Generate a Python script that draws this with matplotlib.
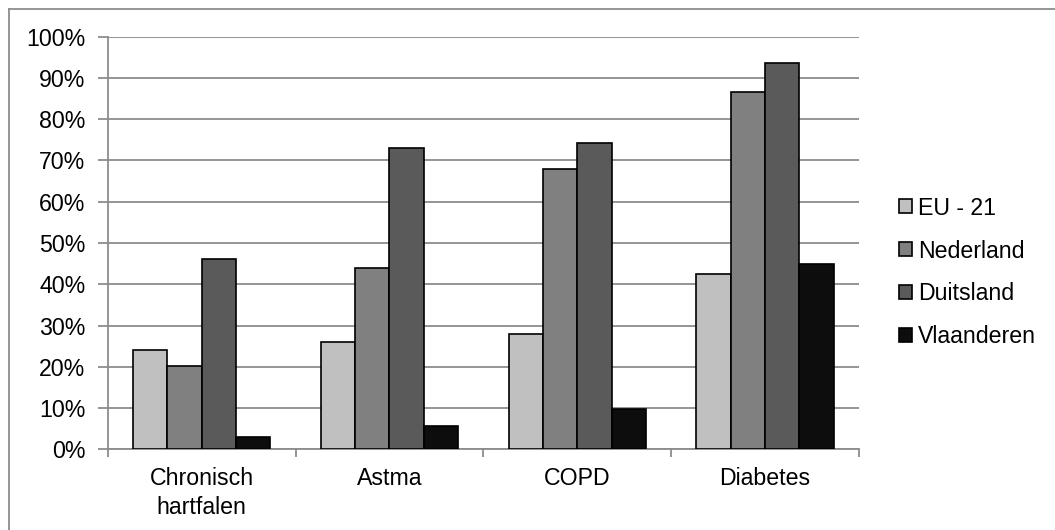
import matplotlib
matplotlib.use("Agg")
import matplotlib.pyplot as plt
from matplotlib.lines import Line2D
from matplotlib.ticker import FixedLocator, PercentFormatter
import numpy as np

categories = ["Chronisch\nhartfalen", "Astma", "COPD", "Diabetes"]
series_names = ["EU - 21", "Nederland", "Duitsland", "Vlaanderen"]
eu21 = [24.1, 25.9, 27.9, 42.5]
nederland = [20.3, 43.9, 67.9, 86.6]
duitsland = [46.1, 73.0, 74.2, 93.6]
vlaanderen = [3.1, 5.6, 9.8, 44.8]
colors = ["#c0c0c0", "#808080", "#5a5a5a", "#0d0d0d"]
yticks = list(range(0, 101, 10))

plt.rcParams['font.family'] = ['Liberation Sans', 'DejaVu Sans']
fs = 16.7

fig = plt.figure(figsize=(10.55, 5.30), dpi=100)
ax = fig.add_axes([107.7/1055, 1-449.3/530, (859-107.7)/1055, (449.3-36.7)/530])

x = np.arange(len(categories))
w = 0.1827
all_series = [eu21, nederland, duitsland, vlaanderen]
for i, (vals, name, c) in enumerate(zip(all_series, series_names, colors)):
    ax.bar(x + (i - 1.5) * w, vals, width=w, color=c, edgecolor="black",
           linewidth=1.2, label=name, zorder=3)

ax.set_xlim(-0.5, len(categories) - 0.5)
ax.set_ylim(0, 100)
ax.set_yticks(yticks)
ax.yaxis.set_major_formatter(PercentFormatter(decimals=0))
ax.grid(axis="y", color="#8c8c8c", linewidth=1.3, zorder=0)
ax.set_axisbelow(True)

ax.set_xticks(x)
ax.set_xticklabels(categories, fontsize=fs, linespacing=1.3)
ax.xaxis.set_minor_locator(FixedLocator(np.arange(-0.5, len(categories), 1.0)))
ax.tick_params(axis="x", which="major", length=0, pad=13)
ax.tick_params(axis="x", which="minor", length=6, width=1.3, color="#8c8c8c", direction="out")
ax.tick_params(axis="y", length=7, width=1.3, color="#8c8c8c", pad=9, labelsize=fs)

for s in ["top", "right"]:
    ax.spines[s].set_visible(False)
for s in ["left", "bottom"]:
    ax.spines[s].set_color("#8c8c8c")
    ax.spines[s].set_linewidth(1.3)

leg = fig.legend(loc="center left", bbox_to_anchor=(899/1055, 1-272.5/530),
                 frameon=False, fontsize=fs, handlelength=0.56, handleheight=0.56,
                 handletextpad=0.26, labelspacing=0.86, borderpad=0, borderaxespad=0)
for h in leg.legend_handles:
    h.set_linewidth(1.2)

# chart-area border (left and top edges visible; right/bottom fall outside the image)
bx, by = 8.5/1055, 1 - 8.5/530
fig.add_artist(Line2D([bx, bx], [0, by], transform=fig.transFigure,
                      color="#8c8c8c", linewidth=1.3))
fig.add_artist(Line2D([bx, 1], [by, by], transform=fig.transFigure,
                      color="#8c8c8c", linewidth=1.3))

fig.savefig("out.png", dpi=100)
